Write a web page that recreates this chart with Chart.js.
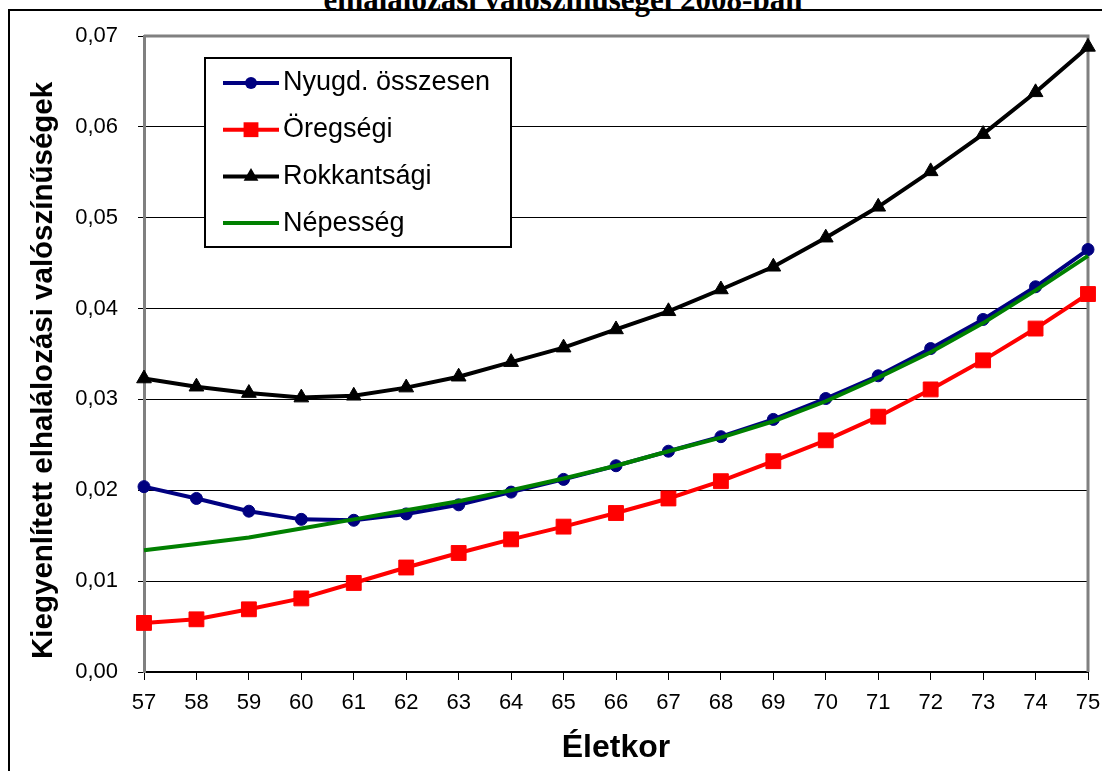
<!DOCTYPE html>
<html>
<head>
<meta charset="utf-8">
<script src="https://cdn.jsdelivr.net/npm/chart.js@4/dist/chart.umd.min.js"></script>
<style>
  html, body { margin:0; padding:0; background:#fff; }
  #wrap { position:relative; width:1102px; height:771px; overflow:hidden; }
  #frame { position:absolute; left:8px; top:9px; width:1100px; height:770px;
           border-left:2px solid #000; border-top:2px solid #000; }
  #topTitle { position:absolute; left:0; width:1126px; top:-16px; text-align:center;
              font:bold 31px "Liberation Serif", serif; line-height:31px; color:#000; white-space:nowrap; }
  canvas { position:absolute; left:0; top:0; }
</style>
</head>
<body>
<div id="wrap">
  <div id="topTitle">elhalálozási valószínűségei 2008-ban</div>
  <div id="frame"></div>
  <canvas id="c" width="1102" height="771"></canvas>
</div>
<script>
// ages on the x axis
const ages = ['57','58','59','60','61','62','63','64','65','66','67','68','69','70','71','72','73','74','75'];

// series
const nyugdOsszesen = [0.0204,0.0191,0.0177,0.0168,0.0167,0.0174,0.0184,0.0198,0.0212,0.0227,0.0243,0.0259,0.0278,0.0301,0.0326,0.0356,0.0388,0.0424,0.0465];
const oregsegi      = [0.0054,0.0058,0.0069,0.0081,0.0098,0.0115,0.0131,0.0146,0.0160,0.0175,0.0191,0.0210,0.0232,0.0255,0.0281,0.0311,0.0343,0.0378,0.0416];
const rokkantsagi   = [0.0323,0.0314,0.0307,0.0302,0.0304,0.0313,0.0325,0.0341,0.0357,0.0377,0.0397,0.0421,0.0446,0.0478,0.0512,0.0551,0.0592,0.0638,0.0688];
const nepesseg      = [0.0134,0.0141,0.0148,0.0158,0.0168,0.0178,0.0188,0.0200,0.0213,0.0227,0.0243,0.0258,0.0276,0.0298,0.0324,0.0352,0.0384,0.0420,0.0458];

const yTicks = [0, 0.01, 0.02, 0.03, 0.04, 0.05, 0.06, 0.07];

const FONT = '"Liberation Sans", Arial, sans-serif';

// gray plot border on top and right
const plotBorder = {
  id: 'plotBorder',
  beforeDatasetsDraw(chart) {
    const { ctx, chartArea: a } = chart;
    ctx.save();
    ctx.strokeStyle = '#808080';
    ctx.lineWidth = 3;
    ctx.beginPath();
    ctx.moveTo(a.left, a.top);
    ctx.lineTo(a.right, a.top);
    ctx.lineTo(a.right, a.bottom);
    ctx.stroke();
    ctx.restore();
  }
};

// legend box inside the plot, drawn from the dataset styles
const boxLegend = {
  id: 'boxLegend',
  afterDraw(chart) {
    const ctx = chart.ctx;
    const bx = 205, by = 58, bw = 306, bh = 189;
    ctx.save();
    ctx.fillStyle = '#fff';
    ctx.fillRect(bx, by, bw, bh);
    ctx.strokeStyle = '#000';
    ctx.lineWidth = 2;
    ctx.strokeRect(bx, by, bw, bh);
    chart.data.datasets.forEach((ds, i) => {
      const y = 83 + i * 46.7;
      ctx.strokeStyle = ds.borderColor;
      ctx.lineWidth = 4;
      ctx.beginPath();
      ctx.moveTo(223, y);
      ctx.lineTo(279, y);
      ctx.stroke();
      const cx = 251, r = ds.pointRadius;
      ctx.fillStyle = ds.borderColor;
      if (r > 0) {
        ctx.beginPath();
        if (ds.pointStyle === 'circle') {
          ctx.arc(cx, y, r, 0, Math.PI * 2);
        } else if (ds.pointStyle === 'rect') {
          const s = Math.SQRT1_2 * r;
          ctx.rect(cx - s, y - s, 2 * s, 2 * s);
        } else if (ds.pointStyle === 'triangle') {
          ctx.moveTo(cx, y - r);
          ctx.lineTo(cx + r * Math.sqrt(3) / 2, y + r / 2);
          ctx.lineTo(cx - r * Math.sqrt(3) / 2, y + r / 2);
          ctx.closePath();
        }
        ctx.fill();
      }
      ctx.fillStyle = '#000';
      ctx.font = '27px ' + FONT;
      ctx.textBaseline = 'middle';
      ctx.textAlign = 'left';
      ctx.fillText(ds.label, 283, y);
    });
    ctx.restore();
  }
};

const line = (label, data, color, style, radius, order) => ({
  label, data, order,
  borderColor: color, backgroundColor: color,
  borderWidth: 4, tension: 0,
  pointStyle: style, pointRadius: radius, pointHoverRadius: radius,
  pointBackgroundColor: color, pointBorderColor: color, pointBorderWidth: 1
});

new Chart(document.getElementById('c').getContext('2d'), {
  type: 'line',
  data: {
    labels: ages,
    datasets: [
      line('Nyugd. összesen', nyugdOsszesen, '#000080', 'circle', 6, 3),
      line('Öregségi',        oregsegi,      '#ff0000', 'rect', 10.5, 2),
      line('Rokkantsági',     rokkantsagi,   '#000000', 'triangle', 8.5, 1),
      line('Népesség',        nepesseg,      '#008000', 'circle', 0, 0),
    ]
  },
  options: {
    responsive: false,
    animation: false,
    layout: { padding: { left: 12, right: 14, top: 36, bottom: 4 } },
    plugins: { legend: { display: false }, tooltip: { enabled: false } },
    scales: {
      x: {
        offset: false,
        grid: { drawOnChartArea: false, color: '#000', tickLength: 8, lineWidth: 1 },
        border: { color: '#000', width: 2 },
        ticks: { color: '#000', font: { family: FONT, size: 22 }, padding: 10, maxRotation: 0, autoSkip: false },
        title: { display: true, text: 'Életkor', color: '#000',
                 font: { family: FONT, size: 32, weight: 'bold' }, padding: { top: 0, bottom: 0 } },
        // fixed height; side padding is left to layout.padding
        afterFit: s => { s.height = 95; s.paddingLeft = 0; s.paddingRight = 0; }
      },
      y: {
        min: 0, max: 0.07,
        afterBuildTicks: s => { s.ticks = yTicks.map(v => ({ value: v })); },
        grid: { color: '#000', lineWidth: 1, tickLength: 6 },
        border: { color: '#808080', width: 3 },
        ticks: { color: '#000', font: { family: FONT, size: 22 }, padding: 20,
                 callback: v => v.toFixed(2).replace('.', ',') },
        // trailing spaces nudge the centred title down to where the original sits
        title: { display: true, text: 'Kiegyenlített elhalálozási valószínűségek    ', color: '#000',
                 font: { family: FONT, size: 29.5, weight: 'bold' }, padding: { top: 14, bottom: 0 } },
        afterFit: s => { s.width = 132; }
      }
    }
  },
  plugins: [plotBorder, boxLegend]
});
</script>
</body>
</html>
